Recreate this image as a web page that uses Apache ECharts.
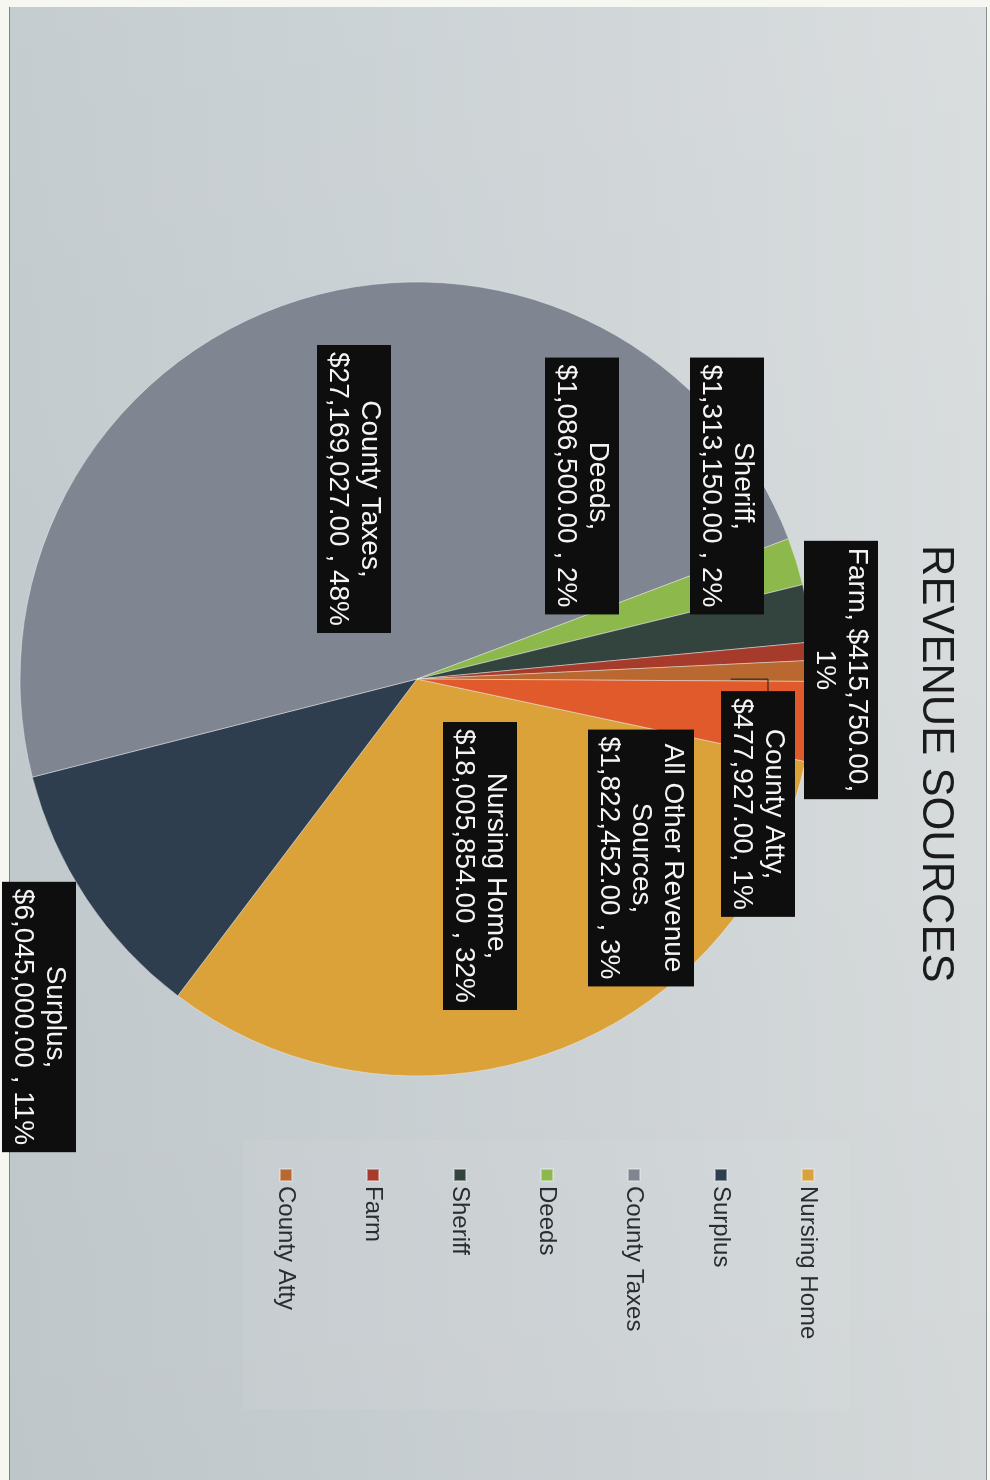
<!DOCTYPE html>
<html>
<head>
<meta charset="utf-8">
<title>Revenue Sources</title>
<script src="https://cdn.jsdelivr.net/npm/echarts@6/dist/echarts.min.js"></script>
<style>
  html, body { margin: 0; padding: 0; background: #f7f7f2; }
  body { width: 990px; height: 1480px; position: relative; overflow: hidden; }
  /* the sheet the chart is printed on */
  #sheet {
    position: absolute; left: 9px; top: 7px; width: 976px; height: 1473px;
    background:
      linear-gradient(to bottom, rgba(255,255,255,0.05) 0%, rgba(255,255,255,0) 40%, rgba(0,0,0,0.02) 100%),
      linear-gradient(to right, #c2cace 0%, #c9d0d3 35%, #d2d7d9 75%, #d8dcdd 100%);
    border-left: 1px solid #7d8388; border-right: 1px solid #8a8f93;
  }
  /* chart is laid out landscape, then turned a quarter clockwise */
  #chart {
    position: absolute; left: 0; top: 0; width: 1480px; height: 990px;
    transform-origin: 0 0; transform: translate(990px, 0) rotate(90deg);
  }
</style>
</head>
<body>
<div id="sheet"></div>
<div id="chart"></div>
<script>
// Revenue by source (dollars)
const categories = ['Nursing Home', 'Surplus', 'County Taxes', 'Deeds', 'Sheriff', 'Farm', 'County Atty', 'All Other Revenue Sources'];
const revenue = [18005854, 6045000, 27169027, 1086500, 1313150, 415750, 477927, 1822452];
const legendNames = ['Nursing Home', 'Surplus', 'County Taxes', 'Deeds', 'Sheriff', 'Farm', 'County Atty'];
const sliceColors = ['#dca23a', '#2f3e4f', '#7f8591', '#8db84b', '#33443f', '#a63b2b', '#b9682f', '#e05a2b'];

// pie geometry and callout box centres, landscape chart coordinates
const pieCenter = [679, 573];
const pieRadius = 397;
const pieStart = 78;
const calloutAt = {
  'Nursing Home': [866, 510],
  'Surplus': [1017, 951],
  'County Taxes': [489, 636],
  'Deeds': [486, 408],
  'Sheriff': [486, 263],
  'Farm': [670, 149],
  'County Atty': [804, 232],
  'All Other Revenue Sources': [858, 349]
};
// callouts that get a leader line back into their slice
const leaderFor = ['County Atty'];

function money(v) {
  return '$' + v.toLocaleString('en-US', { minimumFractionDigits: 2, maximumFractionDigits: 2 });
}

function calloutText(p) {
  const m = money(p.value);
  const pct = Math.round(p.percent) + '%';
  if (p.name === 'Farm') return p.name + ', ' + m + ',\n' + pct;
  if (p.name === 'County Atty') return p.name + ',\n' + m + ', ' + pct;
  if (p.name === 'All Other Revenue Sources') return 'All Other Revenue\nSources,\n' + m + ' , ' + pct;
  return p.name + ',\n' + m + ' , ' + pct;
}

const font = '"Liberation Sans", Arial, Helvetica, sans-serif';
const boxWidth = {};

const chart = echarts.init(document.getElementById('chart'), null, { renderer: 'canvas', width: 1480, height: 990 });

chart.setOption({
  animation: false,
  backgroundColor: 'transparent',
  title: {
    text: 'REVENUE SOURCES',
    left: 540,
    top: 28,
    textStyle: { fontFamily: font, fontSize: 43.5, fontWeight: 'normal', color: '#1b1b1b' }
  },
  legend: {
    orient: 'vertical',
    left: 1140,
    top: 140,
    padding: [30, 70, 31, 28],
    backgroundColor: 'rgba(255,255,255,0.05)',
    data: legendNames,
    icon: 'rect',
    itemWidth: 12,
    itemHeight: 12,
    itemGap: 63,
    textStyle: { fontFamily: font, fontSize: 24, lineHeight: 24, color: '#2a2c2e' }
  },
  series: [{
    type: 'pie',
    center: pieCenter,
    radius: pieRadius,
    startAngle: pieStart,
    clockwise: true,
    avoidLabelOverlap: false,
    itemStyle: { borderColor: 'rgba(235,238,240,0.45)', borderWidth: 1 },
    label: {
      show: true,
      position: 'outside',
      formatter: calloutText,
      fontFamily: font,
      fontSize: 28,
      lineHeight: 32,
      color: '#f4f4f4',
      backgroundColor: '#0e0e0e',
      padding: [5, 7],
      align: 'center'
    },
    labelLine: { show: false },
    labelLayout: function (params) {
      const name = categories[params.dataIndex];
      const c = calloutAt[name];
      boxWidth[name] = params.labelRect.width;
      return { x: c[0], y: c[1], align: 'center', verticalAlign: 'middle' };
    },
    data: categories.map(function (name, i) {
      return { name: name, value: revenue[i], itemStyle: { color: sliceColors[i] } };
    })
  }]
});

// leader lines: from inside the slice, out along the box's side, into its left edge
const total = revenue.reduce(function (a, b) { return a + b; }, 0);
const leaders = leaderFor.map(function (name) {
  const idx = categories.indexOf(name);
  let before = 0;
  for (let i = 0; i < idx; i++) before += revenue[i];
  const mid = (pieStart - 360 * (before + revenue[idx] / 2) / total) * Math.PI / 180;
  const r = pieRadius * 0.79;
  const sx = pieCenter[0] + r * Math.cos(mid);
  const sy = pieCenter[1] - r * Math.sin(mid);
  const c = calloutAt[name];
  const left = c[0] - (boxWidth[name] || 226) / 2;
  const elbowY = c[1] - 10;
  return {
    type: 'polyline',
    silent: true,
    z: 100,
    shape: { points: [[left - 12, sy], [left - 12, elbowY], [left, elbowY]] },
    style: { stroke: '#1e1e1e', lineWidth: 1, fill: null }
  };
});
chart.setOption({ graphic: leaders });
</script>
</body>
</html>
